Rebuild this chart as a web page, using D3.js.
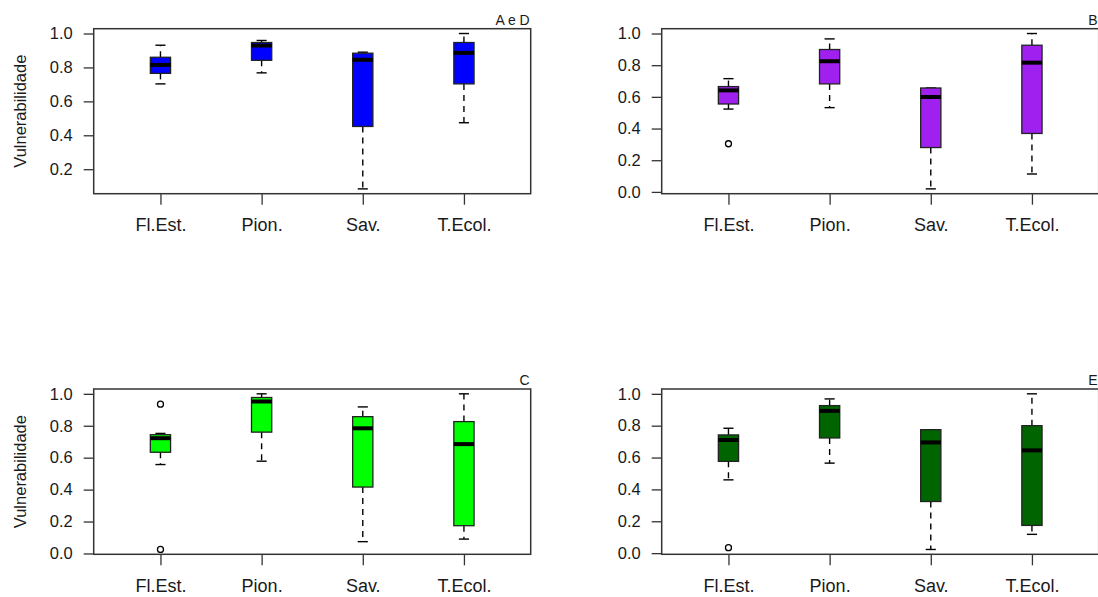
<!DOCTYPE html>
<html>
<head>
<meta charset="utf-8">
<script src="https://cdn.jsdelivr.net/npm/d3@7"></script>
<style>
  html, body { margin: 0; padding: 0; background: #ffffff; }
  svg { display: block; }
  text { font-family: "Liberation Sans", Arial, sans-serif; fill: #1a1a1a; }
</style>
</head>
<body>
<svg id="chart" width="1098" height="597"></svg>
<script>
// ---------- data ----------
const categories = ["Fl.Est.", "Pion.", "Sav.", "T.Ecol."];
const panelTitles = ["A e D", "B", "C", "E"];
const fillColors = ["#0000FF", "#A020F0", "#00FF00", "#006400"];
const yAxisLabel = "Vulnerabilidade";

const ticksA = [0.2, 0.4, 0.6, 0.8, 1.0];
const ticksOther = [0.0, 0.2, 0.4, 0.6, 0.8, 1.0];

// Panel A e D
const lowA  = [0.703, 0.768, 0.084, 0.474];
const q1A   = [0.765, 0.842, 0.452, 0.703];
const medA  = [0.815, 0.929, 0.845, 0.886];
const q3A   = [0.860, 0.947, 0.884, 0.947];
const highA = [0.931, 0.959, 0.890, 1.000];
const outA  = [[], [], [], []];

// Panel B
const lowB  = [0.523, 0.532, 0.019, 0.113];
const q1B   = [0.555, 0.682, 0.280, 0.369];
const medB  = [0.641, 0.825, 0.599, 0.816];
const q3B   = [0.665, 0.899, 0.656, 0.926];
const highB = [0.715, 0.966, 0.656, 1.000];
const outB  = [[0.304], [], [], []];

// Panel C
const lowC  = [0.557, 0.578, 0.074, 0.090];
const q1C   = [0.634, 0.760, 0.416, 0.174];
const medC  = [0.722, 0.952, 0.784, 0.685];
const q3C   = [0.744, 0.977, 0.857, 0.826];
const highC = [0.752, 1.000, 0.918, 1.000];
const outC  = [[0.935, 0.025], [], [], []];

// Panel E
const lowE  = [0.460, 0.565, 0.023, 0.118];
const q1E   = [0.576, 0.723, 0.324, 0.174];
const medE  = [0.710, 0.893, 0.695, 0.645];
const q3E   = [0.742, 0.926, 0.775, 0.800];
const highE = [0.784, 0.968, 0.775, 1.000];
const outE  = [[0.034], [], [], []];

// ---------- layout ----------
const panels = [
  { title: panelTitles[0], fill: fillColors[0], ticks: ticksA, ylab: true,
    low: lowA, q1: q1A, med: medA, q3: q3A, high: highA, out: outA,
    x0: 93.7, x1: 530.7, y0: 28.7, y1: 193.7 },
  { title: panelTitles[1], fill: fillColors[1], ticks: ticksOther, ylab: false,
    low: lowB, q1: q1B, med: medB, q3: q3B, high: highB, out: outB,
    x0: 661.7, x1: 1098.7, y0: 28.7, y1: 193.7 },
  { title: panelTitles[2], fill: fillColors[2], ticks: ticksOther, ylab: true,
    low: lowC, q1: q1C, med: medC, q3: q3C, high: highC, out: outC,
    x0: 93.7, x1: 530.7, y0: 389.0, y1: 554.3 },
  { title: panelTitles[3], fill: fillColors[3], ticks: ticksOther, ylab: false,
    low: lowE, q1: q1E, med: medE, q3: q3E, high: highE, out: outE,
    x0: 661.7, x1: 1098.7, y0: 389.0, y1: 554.3 }
];

const svg = d3.select("#chart");
const boxWidth = 0.2;   // in category units
const pad = 0.031;

panels.forEach(p => {
  const g = svg.append("g");
  const allVals = [].concat(p.low, p.high, ...p.out);
  const lo = d3.min(allVals), hi = d3.max(allVals);
  const ext = (hi - lo) * pad;
  const y = d3.scaleLinear().domain([lo - ext, hi + ext]).range([p.y1, p.y0]);
  const n = categories.length;
  const x = d3.scaleLinear().domain([0.5 - n * 0.04, n + 0.5 + n * 0.04]).range([p.x0, p.x1]);

  // y axis
  const ya = g.append("g")
    .attr("transform", `translate(${p.x0},0)`)
    .call(d3.axisLeft(y).tickValues(p.ticks).tickFormat(d3.format(".1f")).tickSize(10).tickPadding(11));
  ya.select(".domain").remove();
  ya.selectAll(".tick line").attr("stroke", "#333").attr("stroke-width", 1.3);
  ya.selectAll(".tick text").attr("font-size", 16.5).attr("font-family", "Liberation Sans, Arial, sans-serif").attr("fill", "#1a1a1a");

  // x axis
  const xa = g.append("g")
    .attr("transform", `translate(0,${p.y1})`)
    .call(d3.axisBottom(x).tickValues(d3.range(1, n + 1)).tickFormat(i => categories[i - 1]).tickSize(11).tickPadding(14));
  xa.select(".domain").remove();
  xa.selectAll(".tick line").attr("stroke", "#333").attr("stroke-width", 1.3);
  xa.selectAll(".tick text").attr("font-size", 18).attr("font-family", "Liberation Sans, Arial, sans-serif").attr("fill", "#1a1a1a");

  // boxes
  const idx = d3.range(n);
  const half = (x(1 + boxWidth / 2) - x(1));
  const items = g.selectAll("g.item").data(idx).join("g").attr("class", "item");

  // whiskers (dashed)
  items.append("line")
    .attr("x1", i => x(i + 1)).attr("x2", i => x(i + 1))
    .attr("y1", i => y(p.q3[i])).attr("y2", i => y(p.high[i]))
    .attr("stroke", "#000").attr("stroke-width", 1.4).attr("stroke-dasharray", "6,5");
  items.append("line")
    .attr("x1", i => x(i + 1)).attr("x2", i => x(i + 1))
    .attr("y1", i => y(p.q1[i])).attr("y2", i => y(p.low[i]))
    .attr("stroke", "#000").attr("stroke-width", 1.4).attr("stroke-dasharray", "6,5");
  // staples
  items.append("line")
    .attr("x1", i => x(i + 1) - half / 2).attr("x2", i => x(i + 1) + half / 2)
    .attr("y1", i => y(p.high[i])).attr("y2", i => y(p.high[i]))
    .attr("stroke", "#000").attr("stroke-width", 1.4);
  items.append("line")
    .attr("x1", i => x(i + 1) - half / 2).attr("x2", i => x(i + 1) + half / 2)
    .attr("y1", i => y(p.low[i])).attr("y2", i => y(p.low[i]))
    .attr("stroke", "#000").attr("stroke-width", 1.4);
  // box
  items.append("rect")
    .attr("x", i => x(i + 1) - half).attr("width", 2 * half)
    .attr("y", i => y(p.q3[i])).attr("height", i => y(p.q1[i]) - y(p.q3[i]))
    .attr("fill", p.fill).attr("stroke", "#222").attr("stroke-width", 1.3);
  // median
  items.append("line")
    .attr("x1", i => x(i + 1) - half).attr("x2", i => x(i + 1) + half)
    .attr("y1", i => y(p.med[i])).attr("y2", i => y(p.med[i]))
    .attr("stroke", "#000").attr("stroke-width", 4);
  // outliers
  items.each(function(i) {
    d3.select(this).selectAll("circle").data(p.out[i]).join("circle")
      .attr("cx", x(i + 1)).attr("cy", v => y(v)).attr("r", 3)
      .attr("fill", "none").attr("stroke", "#000").attr("stroke-width", 1.3);
  });

  // frame
  g.append("rect")
    .attr("x", p.x0).attr("y", p.y0)
    .attr("width", p.x1 - p.x0).attr("height", p.y1 - p.y0)
    .attr("fill", "none").attr("stroke", "#333").attr("stroke-width", 1.5);

  // title
  g.append("text")
    .attr("x", p.x1 - 1).attr("y", p.y0 - 4)
    .attr("text-anchor", "end").attr("font-size", 14)
    .text(p.title);

  // y label
  if (p.ylab) {
    g.append("text")
      .attr("transform", `translate(20,${(p.y0 + p.y1) / 2}) rotate(-90)`)
      .attr("text-anchor", "middle").attr("dominant-baseline", "central")
      .attr("font-size", 16.5)
      .text(yAxisLabel);
  }
});
</script>
</body>
</html>
